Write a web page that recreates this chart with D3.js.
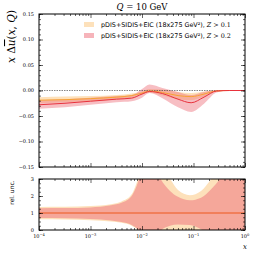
<!DOCTYPE html>
<html>
<head>
<meta charset="utf-8">
<script src="https://cdn.jsdelivr.net/npm/d3@7"></script>
<style>
  body { margin: 0; background: white; }
  svg { display: block; }
</style>
</head>
<body>
<div id="chart"></div>
<script>
// x grid of the main panel
const xMain = [1e-4, 3.2e-4, 1e-3, 3.2e-3, 6.3e-3, 1e-2, 1.4e-2, 2.5e-2, 5e-2, 9e-2, 0.16, 0.28, 0.5, 1];
// Z > 0.2 (red)
const redMid = [-0.028, -0.025, -0.021, -0.017, -0.015, -0.007, -0.002, -0.006, -0.017, -0.024, -0.013, -0.001, 0, 0];
const redLo = [-0.036, -0.033, -0.028, -0.023, -0.021, -0.014, -0.005, -0.015, -0.033, -0.042, -0.026, -0.004, 0, 0];
const redHi = [-0.019, -0.017, -0.014, -0.011, -0.009, 0.003, 0.012, 0.005, -0.003, -0.009, -0.003, 0.001, 0, 0];
// Z > 0.1 (orange)
const orangeMid = [-0.019, -0.018, -0.016, -0.013, -0.010, -0.005, -0.001, -0.004, -0.010, -0.012, -0.007, -0.001, 0, 0];
const orangeLo = [-0.025, -0.023, -0.021, -0.017, -0.014, -0.008, -0.004, -0.010, -0.017, -0.019, -0.012, -0.002, 0, 0];
const orangeHi = [-0.013, -0.012, -0.011, -0.009, -0.006, -0.002, 0.003, 0.002, -0.003, -0.005, -0.002, 0, 0, 0];

// ratio panel
const xRatio = [1e-4, 3.2e-4, 1e-3, 2.5e-3, 4e-3, 6.3e-3, 7.9e-3, 1e-2, 1.6e-2, 2.3e-2, 3.5e-2, 5e-2, 8.5e-2, 0.14, 0.22, 0.32, 0.45, 1];
const redRatioHi = [1.28, 1.29, 1.33, 1.45, 1.6, 2.0, 2.6, 3.5, 4, 3, 2.3, 1.95, 1.75, 1.9, 2.4, 3, 4, 4];
const redRatioLo = [0.7, 0.69, 0.65, 0.56, 0.47, 0.3, 0.1, -0.3, -0.8, -0.05, 0.25, 0.33, 0.3, 0.05, -0.4, -1, -1, -1];
const orangeRatioHi = [1.36, 1.37, 1.41, 1.52, 1.68, 2.1, 2.8, 3.8, 4.5, 3.6, 3, 2.35, 2.05, 2.3, 3, 3.8, 4.5, 4.5];
const orangeRatioLo = [0.63, 0.62, 0.58, 0.5, 0.42, 0.25, 0.05, -0.4, -1, -0.5, -0.3, -0.2, -0.2, -0.3, -0.6, -1, -1, -1];
const ratioLine = xRatio.map(() => 1);

// ticks
const xMajor = [1e-4, 1e-3, 1e-2, 1e-1, 1];
const xExp = ["−4", "−3", "−2", "−1", "0"];
const yMainTicks = [-0.15, -0.10, -0.05, 0, 0.05, 0.10, 0.15];
const yRatioTicks = [0, 1, 2, 3];

const legendLabels = ["pDIS+SIDIS+EIC (18x275 GeV²), ", "pDIS+SIDIS+EIC (18x275 GeV²), "];
const legendCuts = ["0.1", "0.2"];

// colours
const red = "#e8323c";
const orange = "#f7a234";
const cream = "#fde1bb";
const pink = "#ee6e7a";

const W = 254, H = 254;
const left = 39, right = 245;
const mainTop = 14, mainBottom = 167;
const ratioTop = 179, ratioBottom = 230;

const svg = d3.select("#chart").append("svg")
    .attr("width", W)
    .attr("height", H);

const x = d3.scaleLog().domain([1e-4, 1]).range([left, right]);
const yMain = d3.scaleLinear().domain([-0.15, 0.15]).range([mainBottom, mainTop]);
const yRatio = d3.scaleLinear().domain([0, 3]).range([ratioBottom, ratioTop]);

// clip paths
const defs = svg.append("defs");
defs.append("clipPath").attr("id", "clipMain").append("rect")
    .attr("x", left).attr("y", mainTop).attr("width", right - left).attr("height", mainBottom - mainTop);
defs.append("clipPath").attr("id", "clipRatio").append("rect")
    .attr("x", left).attr("y", ratioTop).attr("width", right - left).attr("height", ratioBottom - ratioTop);

function band(xs, lo, hi, y) {
    return d3.area()
        .x((d, i) => x(xs[i]))
        .y0((d, i) => y(lo[i]))
        .y1((d, i) => y(hi[i]))
        .curve(d3.curveMonotoneX)(xs);
}
function line(xs, v, y) {
    return d3.line()
        .x((d, i) => x(xs[i]))
        .y((d, i) => y(v[i]))
        .curve(d3.curveMonotoneX)(xs);
}

// main panel
const gMain = svg.append("g").attr("clip-path", "url(#clipMain)");
gMain.append("path").attr("d", band(xMain, orangeLo, orangeHi, yMain)).attr("fill", cream);
gMain.append("path").attr("d", band(xMain, redLo, redHi, yMain)).attr("fill", pink).attr("fill-opacity", 0.45);
gMain.append("line")
    .attr("x1", left).attr("x2", right)
    .attr("y1", yMain(0)).attr("y2", yMain(0))
    .attr("stroke", "#333").attr("stroke-width", 0.6).attr("stroke-dasharray", "1.5,1");
gMain.append("path").attr("d", line(xMain, orangeMid, yMain)).attr("fill", "none").attr("stroke", orange).attr("stroke-width", 1);
gMain.append("path").attr("d", line(xMain, redMid, yMain)).attr("fill", "none").attr("stroke", red).attr("stroke-width", 1);

// ratio panel
const gRatio = svg.append("g").attr("clip-path", "url(#clipRatio)");
gRatio.append("path").attr("d", band(xRatio, orangeRatioLo, orangeRatioHi, yRatio)).attr("fill", cream);
gRatio.append("path").attr("d", band(xRatio, redRatioLo, redRatioHi, yRatio)).attr("fill", pink).attr("fill-opacity", 0.5);
gRatio.append("path").attr("d", line(xRatio, ratioLine, yRatio)).attr("fill", "none").attr("stroke", orange).attr("stroke-width", 1.2);
gRatio.append("path").attr("d", line(xRatio, ratioLine, yRatio)).attr("fill", "none").attr("stroke", "#ec5a50").attr("stroke-width", 1.2);

// minor ticks for log axis
const xMinor = [];
for (let e = -4; e < 0; e++) {
    for (let m = 2; m <= 9; m++) xMinor.push(m * Math.pow(10, e));
}

function frame(top, bottom, y, yMajorTicks, yMinorTicks) {
    const g = svg.append("g");
    const tickStyle = sel => {
        sel.select(".domain").remove();
        sel.selectAll("line").attr("stroke", "black").attr("stroke-width", 0.6);
        sel.selectAll("text").remove();
    };
    g.append("g").attr("transform", `translate(0,${bottom})`)
        .call(d3.axisBottom(x).tickValues(xMajor).tickSize(-4)).call(tickStyle);
    g.append("g").attr("transform", `translate(0,${bottom})`)
        .call(d3.axisBottom(x).tickValues(xMinor).tickSize(-2)).call(tickStyle);
    g.append("g").attr("transform", `translate(0,${top})`)
        .call(d3.axisTop(x).tickValues(xMajor).tickSize(-4)).call(tickStyle);
    g.append("g").attr("transform", `translate(0,${top})`)
        .call(d3.axisTop(x).tickValues(xMinor).tickSize(-2)).call(tickStyle);
    g.append("g").attr("transform", `translate(${left},0)`)
        .call(d3.axisLeft(y).tickValues(yMajorTicks).tickSize(-4)).call(tickStyle);
    g.append("g").attr("transform", `translate(${left},0)`)
        .call(d3.axisLeft(y).tickValues(yMinorTicks).tickSize(-2)).call(tickStyle);
    g.append("g").attr("transform", `translate(${right},0)`)
        .call(d3.axisRight(y).tickValues(yMajorTicks).tickSize(-4)).call(tickStyle);
    g.append("g").attr("transform", `translate(${right},0)`)
        .call(d3.axisRight(y).tickValues(yMinorTicks).tickSize(-2)).call(tickStyle);
    g.append("rect")
        .attr("x", left).attr("y", top)
        .attr("width", right - left).attr("height", bottom - top)
        .attr("fill", "none").attr("stroke", "black").attr("stroke-width", 1);
}

frame(mainTop, mainBottom, yMain, yMainTicks, d3.range(-0.15, 0.151, 0.01));
frame(ratioTop, ratioBottom, yRatio, yRatioTicks, d3.range(0, 3.01, 0.25));

const serif = "'DejaVu Serif', serif";
const fmt = d3.format(".2f");

// y tick labels main
svg.append("g").selectAll("text")
    .data(yMainTicks)
    .enter().append("text")
    .attr("x", left - 5)
    .attr("y", d => yMain(d) + 1.8)
    .attr("text-anchor", "end")
    .attr("font-family", serif)
    .attr("font-size", "5px")
    .text(d => fmt(d));

// y tick labels ratio
svg.append("g").selectAll("text")
    .data(yRatioTicks)
    .enter().append("text")
    .attr("x", left - 5)
    .attr("y", d => yRatio(d) + 1.8)
    .attr("text-anchor", "end")
    .attr("font-family", serif)
    .attr("font-size", "5px")
    .text(d => d);

// x tick labels
const xl = svg.append("g").selectAll("text")
    .data(xMajor)
    .enter().append("text")
    .attr("x", d => x(d))
    .attr("y", ratioBottom + 8)
    .attr("text-anchor", "middle")
    .attr("font-family", serif)
    .attr("font-size", "5px");
xl.append("tspan").text("10");
xl.append("tspan").attr("dy", -2).attr("font-size", "3.6px").text((d, i) => xExp[i]);

// x label
svg.append("text")
    .attr("x", right)
    .attr("y", 249)
    .attr("text-anchor", "middle")
    .attr("font-family", serif)
    .attr("font-style", "italic")
    .attr("font-size", "7px")
    .text("x");

// y label main
const ylab = svg.append("text")
    .attr("transform", `translate(15,${mainTop - 4}) rotate(-90)`)
    .attr("text-anchor", "end")
    .attr("font-family", serif)
    .attr("font-size", "10.5px");
ylab.append("tspan").attr("font-style", "italic").text("x ");
ylab.append("tspan").text("Δ");
ylab.append("tspan").attr("font-style", "italic").style("text-decoration", "overline").text("u");
ylab.append("tspan").text("(");
ylab.append("tspan").attr("font-style", "italic").text("x");
ylab.append("tspan").text(", ");
ylab.append("tspan").attr("font-style", "italic").text("Q");
ylab.append("tspan").text(")");

// y label ratio
svg.append("text")
    .attr("transform", `translate(14,${(ratioTop + ratioBottom) / 2 - 12}) rotate(-90)`)
    .attr("text-anchor", "middle")
    .attr("font-family", "'DejaVu Sans', sans-serif")
    .attr("font-size", "6px")
    .text("rel. unc.");

// title
const title = svg.append("text")
    .attr("x", (left + right) / 2)
    .attr("y", 10)
    .attr("text-anchor", "middle")
    .attr("font-family", serif)
    .attr("font-size", "8.5px");
title.append("tspan").attr("font-style", "italic").text("Q");
title.append("tspan").text(" = 10 GeV");

// legend
const legendFills = [cream, "#f6b4ba"];
const legend = svg.append("g");
legendLabels.forEach((lab, i) => {
    const ly = 24.5 + i * 11;
    legend.append("rect")
        .attr("x", 84).attr("y", ly - 2.5)
        .attr("width", 10).attr("height", 5)
        .attr("fill", legendFills[i]);
    const t = legend.append("text")
        .attr("x", 101)
        .attr("y", ly + 2.2)
        .attr("font-family", "'DejaVu Sans', sans-serif")
        .attr("font-size", "6.4px");
    t.append("tspan").text(lab);
    t.append("tspan").attr("font-family", serif).attr("font-style", "italic").text("Z");
    t.append("tspan").attr("font-family", serif).text(" > " + legendCuts[i]);
});
</script>
</body>
</html>
